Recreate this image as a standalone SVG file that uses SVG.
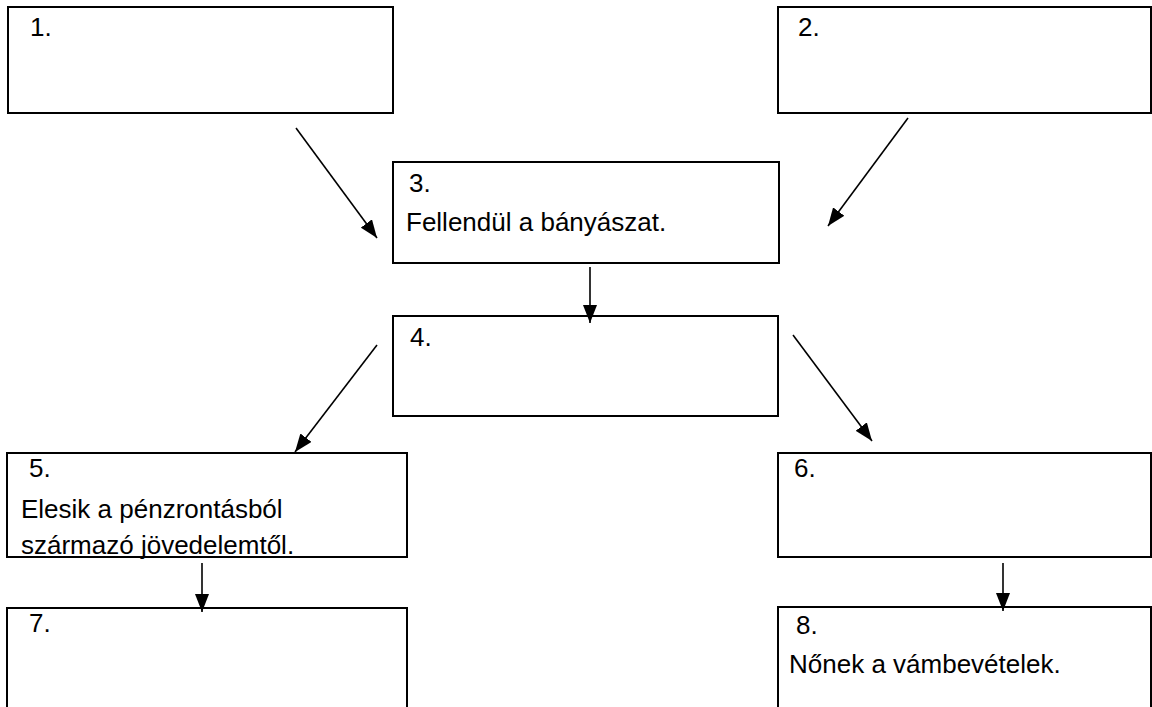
<svg xmlns="http://www.w3.org/2000/svg" width="1152" height="707" viewBox="0 0 1152 707">
<style>
.box{fill:#fff;stroke:#000;stroke-width:2}
.t{font-family:"Liberation Sans",Arial,sans-serif;font-size:26px;fill:#000}
.c{stroke:#000;stroke-width:1.6;fill:none;marker-end:url(#ah)}
</style>
<defs>
<marker id="ah" markerWidth="18" markerHeight="14" refX="18" refY="7" orient="auto" markerUnits="userSpaceOnUse">
<path d="M0,0 L18,7 L0,14 z" fill="#000"/>
</marker>
</defs>
<rect width="1152" height="707" fill="#fff"/>
<g id="node1"><rect class="box" x="8" y="7" width="385" height="106"/><text class="t" x="30" y="36">1.</text></g>
<g id="node2"><rect class="box" x="778" y="7" width="373" height="106"/><text class="t" x="798" y="36">2.</text></g>
<g id="node3"><rect class="box" x="393" y="162" width="386" height="101"/><text class="t" x="409" y="192">3.</text><text class="t" x="406" y="231">Fellendül a bányászat.</text></g>
<g id="node4"><rect class="box" x="393" y="316" width="385" height="100"/><text class="t" x="410" y="346">4.</text></g>
<g id="node5"><rect class="box" x="7" y="453" width="400" height="104"/><text class="t" x="29" y="477">5.</text><text class="t" x="21" y="518">Elesik a pénzrontásból</text><text class="t" x="21" y="554">származó jövedelemtől.</text></g>
<g id="node6"><rect class="box" x="778" y="453" width="373" height="104"/><text class="t" x="794" y="477">6.</text></g>
<g id="node7"><rect class="box" x="7" y="608" width="400" height="120"/><text class="t" x="29" y="632">7.</text></g>
<g id="node8"><rect class="box" x="778" y="607" width="373" height="120"/><text class="t" x="796" y="634">8.</text><text class="t" x="789" y="673">Nőnek a vámbevételek.</text></g>
<g id="connectors">
<line class="c" x1="296" y1="128" x2="377" y2="238"/>
<line class="c" x1="908" y1="118" x2="828" y2="226"/>
<line class="c" x1="590" y1="267" x2="590" y2="323"/>
<line class="c" x1="377" y1="345" x2="295" y2="452"/>
<line class="c" x1="793" y1="335" x2="872" y2="441"/>
<line class="c" x1="202" y1="563" x2="202" y2="612"/>
<line class="c" x1="1003" y1="563" x2="1003" y2="611"/>
</g>
</svg>
